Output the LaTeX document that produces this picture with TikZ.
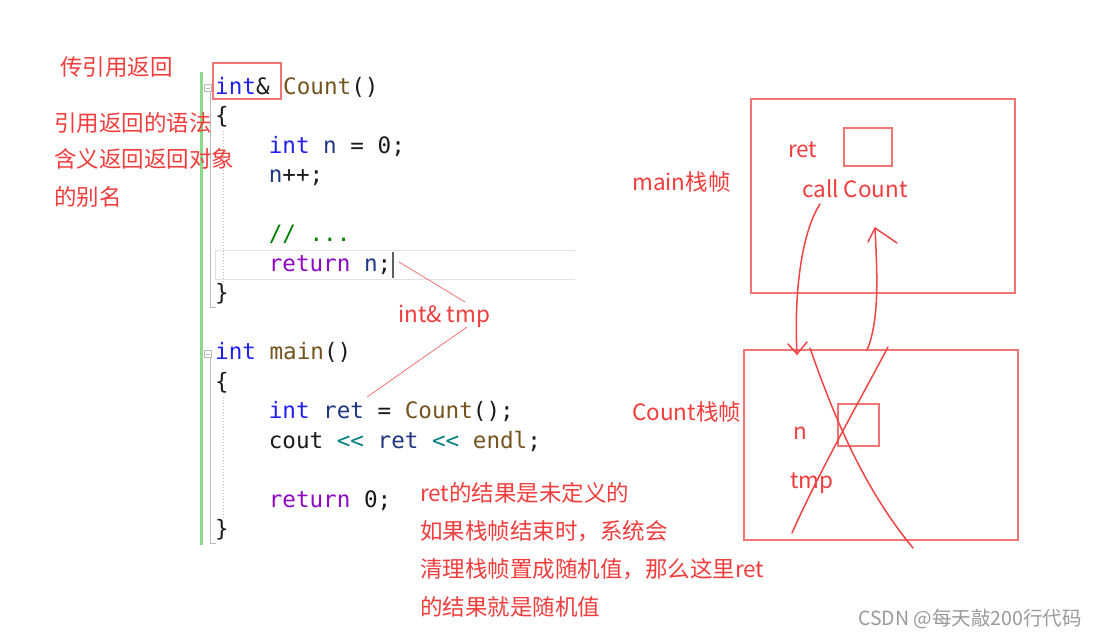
\documentclass[tikz,border=0pt]{standalone}
\usepackage{fontspec}
\usetikzlibrary{calc}
\newfontfamily\cjk{Noto Sans CJK SC}
\newfontfamily\codefont{DejaVu Sans Mono}
\definecolor{redtext}{HTML}{F23D3D}
\definecolor{redframe}{HTML}{F27575}
\definecolor{redhand}{HTML}{F04545}
\definecolor{kwc}{HTML}{2020F0}
\definecolor{fnc}{HTML}{74531F}
\definecolor{varc}{HTML}{1F377F}
\definecolor{ctlc}{HTML}{8F08C4}
\definecolor{opc}{HTML}{008080}
\definecolor{cmc}{HTML}{008000}
\definecolor{codedef}{HTML}{1A1A1A}
\definecolor{barg}{HTML}{8BD98B}
\definecolor{guide}{HTML}{B8B8B8}
\definecolor{hl}{HTML}{E2E2E2}
\definecolor{wm}{HTML}{9A9A9A}
\newcommand{\kw}[1]{\textcolor{kwc}{#1}}
\newcommand{\fnn}[1]{\textcolor{fnc}{#1}}
\newcommand{\vr}[1]{\textcolor{varc}{#1}}
\newcommand{\ctl}[1]{\textcolor{ctlc}{#1}}
\newcommand{\opp}{\textcolor{opc}{\mbox{<}\mbox{<}}}
\newcommand{\cmm}[1]{\textcolor{cmc}{#1}}
\begin{document}
\begin{tikzpicture}[x=1pt,y=-1pt,
  redtxt/.style={font=\cjk\fontsize{22.5}{22.5}\selectfont, text=redtext, inner sep=0pt, anchor=base west},
  codeln/.style={font=\codefont\fontsize{22.6}{22.6}\selectfont, text=codedef, inner sep=0pt, anchor=base west},
  redbox/.style={draw=redframe, line width=1.2pt},
  hand/.style={draw=redhand, line width=1.5pt, line cap=round, line join=round},
  leader/.style={draw=redframe, line width=0.8pt},
  foldbox/.style={draw=guide, line width=0.6pt, fill=white, minimum size=7pt, inner sep=0pt},
  wmark/.style={font=\cjk\fontsize{19.5}{19.5}\selectfont, text=wm, inner sep=0pt, anchor=base west}
]
\useasboundingbox[fill=white] (0,0) rectangle (1099,637);

% editor decorations
\fill[barg] (199.5,72) rectangle (202.5,545);
\draw[hl, line width=0.9pt] (575,250) -- (215,250) -- (215,279) -- (575,279);
\draw[guide, line width=0.6pt] (210,92) -- (210,307) -- (216,307);
\draw[guide, line width=0.6pt] (210,358) -- (210,543) -- (216,543);
\node[foldbox] (f0) at (208,88) {};
\draw[guide, line width=0.6pt] ($(f0.west)+(1.5,0)$) -- ($(f0.east)+(-1.5,0)$);
\node[foldbox] (f1) at (208,354) {};
\draw[guide, line width=0.6pt] ($(f1.west)+(1.5,0)$) -- ($(f1.east)+(-1.5,0)$);
\draw[guide, line width=0.7pt, dash pattern=on 1.2pt off 1.8pt] (223,131) -- (223,284);
\draw[guide, line width=0.7pt, dash pattern=on 1.2pt off 1.8pt] (223,397) -- (223,518);

% code
\node[codeln] (c0) at (215,94) {\kw{int}\& \fnn{Count}()};
\node[codeln] (c1) at (215,123.5) {\{};
\node[codeln] (c2) at (268.6,153) {\kw{int} \vr{n} = 0;};
\node[codeln] (c3) at (268.6,182.5) {\vr{n}++;};
\node[codeln] (c5) at (268.6,241.5) {\cmm{// ...}};
\node[codeln] (c6) at (268.6,271) {\ctl{return} \vr{n};};
\node[codeln] (c7) at (215,300.5) {\}};
\node[codeln] (c9) at (215,359.5) {\kw{int} \fnn{main}()};
\node[codeln] (c10) at (215,389) {\{};
\node[codeln] (c11) at (268.6,418.5) {\kw{int} \vr{ret} = \fnn{Count}();};
\node[codeln] (c12) at (268.6,448) {cout \opp{} \vr{ret} \opp{} \fnn{endl};};
\node[codeln] (c14) at (268.6,507) {\ctl{return} 0;};
\node[codeln] (c15) at (215,536.5) {\}};
\draw[codedef!70, line width=1.5pt] (393,252) -- (393,278);

% red box around int&
\draw[redbox] (213,63) rectangle (281,99);

% left red notes
\node[redtxt] (t0) at (60,75) {传引用返回};
\node[redtxt] (t1) at (54,131) {引用返回的语法};
\node[redtxt] (t2) at (54,167.5) {含义返回返回对象};
\node[redtxt] (t3) at (54,205) {的别名};

% int& tmp label and leaders
\node[redtxt] (tmp) at (398,322) {int\& tmp};
\coordinate (la) at (399,262);
\coordinate (lb) at (465,302);
\coordinate (lc) at (467,327);
\coordinate (ld) at (367,397);
\draw[leader] (la) -- (lb);
\draw[leader] (lc) -- (ld);

% bottom notes
\node[redtxt] (b1) at (420,501) {ret的结果是未定义的};
\node[redtxt] (b2) at (420,539) {如果栈帧结束时，系统会};
\node[redtxt] (b3) at (420,577) {清理栈帧置成随机值，那么这里ret};
\node[redtxt] (b4) at (420,615) {的结果就是随机值};

% main frame
\draw[redbox] (751,99) rectangle (1015,293);
\draw[redbox] (844,128) rectangle (892,166);
\node[redtxt] (mret) at (788,157) {ret};
\node[redtxt] (call) at (802,197) {call Count};
\node[redtxt] (mainlbl) at (632,190) {main栈帧};

% Count frame
\draw[redbox] (744,350) rectangle (1018,540);
\draw[redbox] (838,404) rectangle (879,446);
\node[redtxt] (nn) at (793,439) {n};
\node[redtxt] (ntmp) at (790,488) {tmp};
\node[redtxt] (countlbl) at (632,420) {Count栈帧};

% hand-drawn arrows
\draw[hand] (820,204) .. controls (800,235) and (794,300) .. (797,354);
\draw[hand] (788,344) -- (797,354) -- (807,342);
\draw[hand] (867,350) .. controls (880,320) and (877,270) .. (875,228);
\draw[hand] (868,242) -- (875,228) -- (897,243);

% cross
\draw[hand] (810,348) .. controls (835,420) and (865,490) .. (913,548);
\draw[hand] (888,347) .. controls (860,400) and (820,470) .. (792,533);

% watermark
\node[wmark] (wmk) at (858,625) {CSDN @每天敲200行代码};
\end{tikzpicture}
\end{document}
